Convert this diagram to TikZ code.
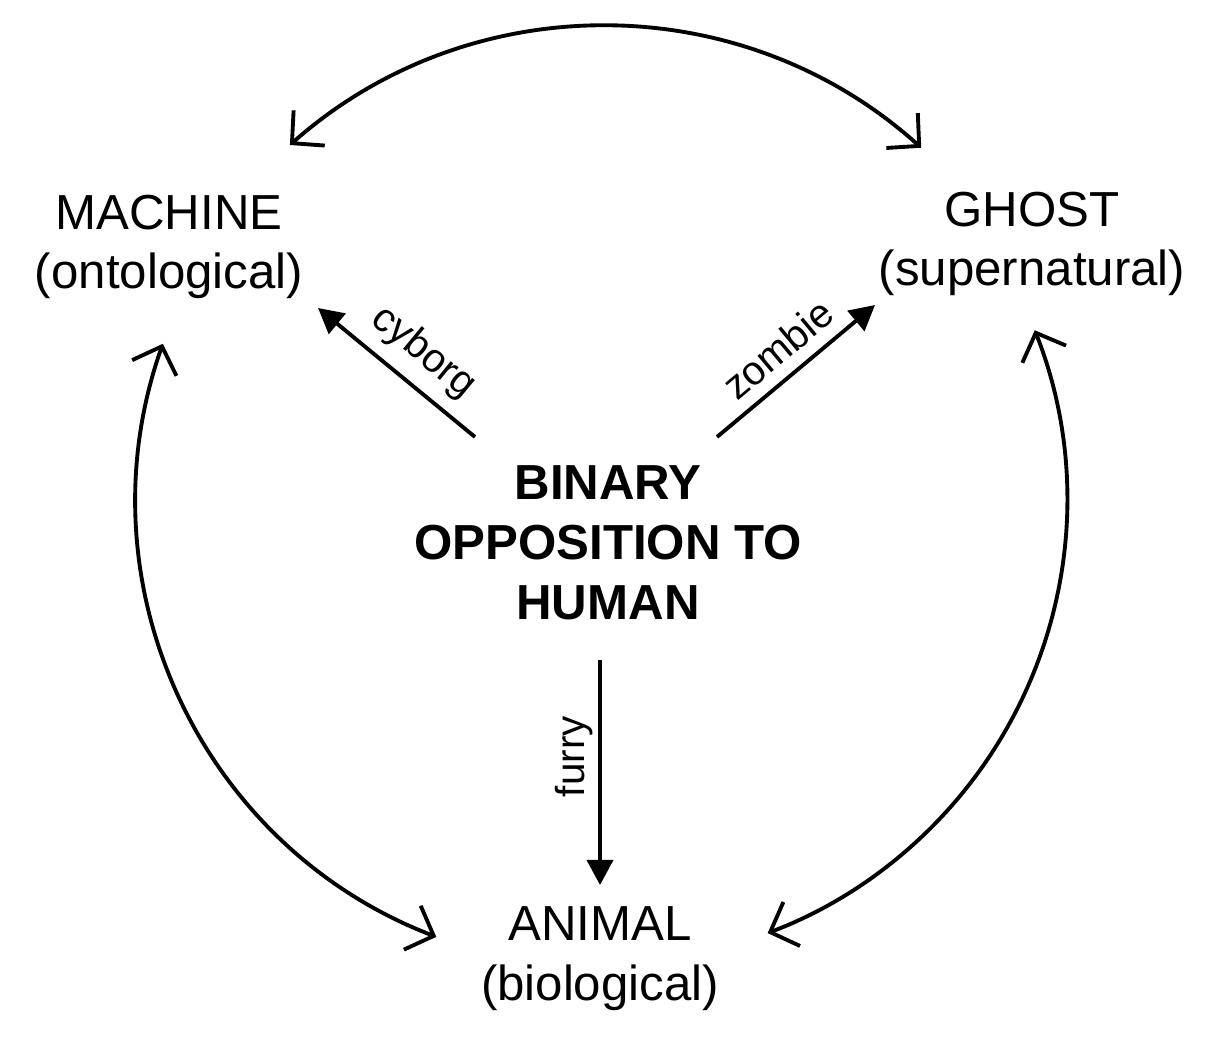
\documentclass[tikz,border=0pt]{standalone}
\usepackage{fontspec}
\setmainfont{Liberation Sans}
\usetikzlibrary{arrows.meta}
\begin{document}
\begin{tikzpicture}[
  lbl/.style={align=center, font=\fontsize{14}{17}\selectfont},
  tag/.style={font=\fontsize{11.5}{13}\selectfont, sloped, above},
  pointer/.style={-{Triangle[length=2.5mm,width=2.6mm]}, line width=1.1pt},
  ring/.style={{Straight Barb[length=2.3mm,width=4.7mm]}-{Straight Barb[length=2.3mm,width=4.7mm]}, line width=1.1pt}
]
\useasboundingbox (0,0) rectangle (12.16,10.52);
\node[lbl] (machine) at (1.69,8.05) {MACHINE\\(ontological)};
\node[lbl] (ghost) at (10.32,8.08) {GHOST\\(supernatural)};
\node[lbl] (animal) at (6.00,0.93) {ANIMAL\\(biological)};
\node[lbl, font=\fontsize{14}{17}\selectfont\bfseries] (human) at (6.08,5.09) {BINARY\\OPPOSITION TO\\HUMAN};

\coordinate (hub) at (6.04,5.52);
\coordinate (cyb-a) at (4.75,6.15);
\coordinate (cyb-b) at (3.18,7.44);
\coordinate (zom-a) at (7.17,6.15);
\coordinate (zom-b) at (8.75,7.47);
\coordinate (fur-a) at (6.00,3.92);
\coordinate (fur-b) at (6.00,1.67);

\draw[pointer] (cyb-a) -- node[tag, pos=0.46] {cyborg} (cyb-b);
\draw[pointer] (zom-a) -- node[tag, pos=0.5] {zombie} (zom-b);
\draw[pointer] (fur-a) -- node[font=\fontsize{11.5}{13}\selectfont, pos=0.43, rotate=90, anchor=south, inner sep=1.5pt] {furry} (fur-b);

% the three arcs round the hub
\draw[ring] ([shift={(131.5:4.74)}]hub) arc[start angle=131.5, end angle=48, radius=4.74];
\draw[ring] ([shift={(160.5:4.68)}]hub) arc[start angle=160.5, end angle=249, radius=4.68];
\draw[ring] ([shift={(21.5:4.63)}]hub) arc[start angle=21.5, end angle=-69.3, radius=4.63];
\end{tikzpicture}
\end{document}
